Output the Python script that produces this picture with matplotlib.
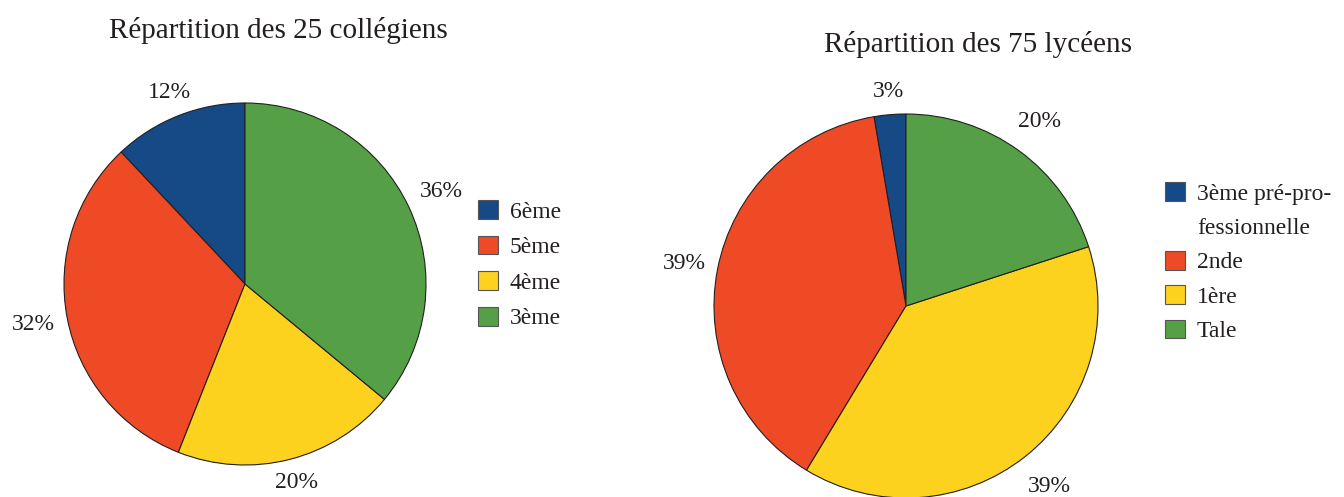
import matplotlib
matplotlib.use("Agg")
import numpy as np
import matplotlib.pyplot as plt
from matplotlib.patches import Patch

plt.rcParams['font.family'] = ['Liberation Serif', 'DejaVu Serif']
plt.rcParams['text.color'] = '#231f20'

# données
college_labels = ["6ème", "5ème", "4ème", "3ème"]
college_counts = [3, 8, 5, 9]
lycee_labels = ["3ème pré-pro-", "2nde", "1ère", "Tale"]
lycee_counts = [2, 29, 29, 15]
colors = ["#154a87", "#ee4a25", "#fcd21e", "#55a046"]
# distance des étiquettes au centre (en rayons)
college_dist = [1.135, 1.19, 1.135, 1.2]
lycee_dist = [1.12, 1.175, 1.2, 1.185]

W, H = 1344, 497
fig = plt.figure(figsize=(W / 100, H / 100), dpi=100)


def pie_axes(cx, cy, r):
    # axes carré centré sur (cx, cy) en pixels (origine en haut)
    return fig.add_axes([(cx - r) / W, (H - cy - r) / H, 2 * r / W, 2 * r / H])


def draw_pie(ax, counts, dist, title, title_xy):
    wedges, texts, autotexts = ax.pie(
        counts, colors=colors, startangle=90, counterclock=True,
        autopct=lambda p: "%d%%" % round(p), pctdistance=1.17,
        wedgeprops=dict(edgecolor="#231f20", linewidth=0.8),
        textprops=dict(fontsize=17, color="#231f20"), radius=1)
    for w, t, d in zip(wedges, autotexts, dist):
        a = np.deg2rad((w.theta1 + w.theta2) / 2)
        t.set_position((d * np.cos(a), d * np.sin(a)))
    ax.set_xlim(-1, 1)
    ax.set_ylim(-1, 1)
    ax.set_aspect('auto')
    ax.axis('off')
    fig.text(title_xy[0] / W, 1 - title_xy[1] / H, title, fontsize=21,
             ha='center', va='center')


ax1 = pie_axes(245, 284, 181)
draw_pie(ax1, college_counts, college_dist, "Répartition des 25 collégiens", (278, 30))
ax2 = pie_axes(906, 306, 192)
draw_pie(ax2, lycee_counts, lycee_dist, "Répartition des 75 lycéens", (978, 45))

# légende des collégiens
handles1 = [Patch(facecolor=c, edgecolor="#555555", linewidth=0.8) for c in colors]
fig.legend(handles1, college_labels, loc='upper left', bbox_to_anchor=(478 / W, 1 - 200 / H),
           frameon=False, fontsize=17, handlelength=0.85, handleheight=0.85,
           handletextpad=0.5, labelspacing=0.55, borderpad=0, borderaxespad=0)

# légende des lycéens : la 1re étiquette est sur deux lignes
handles2 = [Patch(facecolor=c, edgecolor="#555555", linewidth=0.8) for c in colors]
handles2.insert(1, Patch(facecolor='none', edgecolor='none'))
labels2 = lycee_labels[:1] + ["fessionnelle"] + lycee_labels[1:]
fig.legend(handles2, labels2, loc='upper left', bbox_to_anchor=(1165 / W, 1 - 182 / H),
           frameon=False, fontsize=17, handlelength=0.85, handleheight=0.85,
           handletextpad=0.5, labelspacing=0.5, borderpad=0, borderaxespad=0)

fig.savefig("out.png", dpi=100)
